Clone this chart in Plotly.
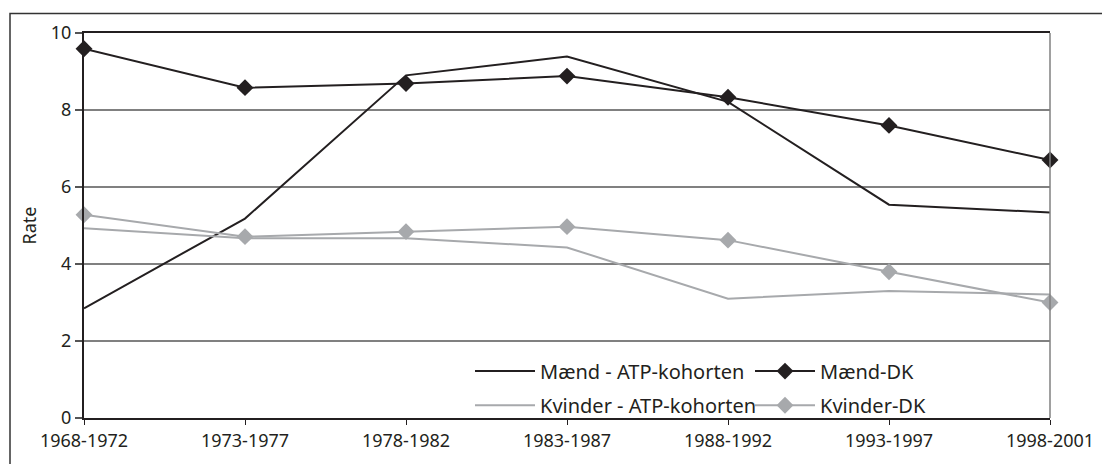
import plotly.graph_objects as go

categories = ["1968-1972", "1973-1977", "1978-1982", "1983-1987", "1988-1992", "1993-1997", "1998-2001"]
maend_atp = [2.85, 5.18, 8.90, 9.39, 8.21, 5.54, 5.34]
maend_dk = [9.59, 8.58, 8.69, 8.88, 8.33, 7.60, 6.70]
kvinder_atp = [4.93, 4.67, 4.67, 4.43, 3.10, 3.30, 3.21]
kvinder_dk = [5.28, 4.71, 4.84, 4.97, 4.62, 3.80, 3.00]

y_ticks = [0, 2, 4, 6, 8, 10]

BLACK = "#231f20"
GRAY = "#a7a9ac"
FONT = "Noto Sans"

OFF = 8  # page body margin
W, H = 1110 - OFF, 464 - OFF
# plot area in window pixels: x 84..1050, y 30..424
L = 84 - OFF
T = 30 - OFF
R = W - (1050 - OFF)
B = H - (424 - OFF)
pw, ph = W - L - R, H - T - B

def px_x(px):
    return (px - OFF - L) / pw

def px_y(py):
    return (H - B - (py - OFF)) / ph

fig = go.Figure()
fig.add_trace(go.Scatter(x=categories, y=maend_atp, name="Mænd - ATP-kohorten", mode="lines",
                         line=dict(color=BLACK, width=2), legend="legend", cliponaxis=False))
fig.add_trace(go.Scatter(x=categories, y=maend_dk, name="Mænd-DK", mode="lines+markers",
                         line=dict(color=BLACK, width=2),
                         marker=dict(symbol="diamond", size=13, color=BLACK),
                         legend="legend2", cliponaxis=False))
fig.add_trace(go.Scatter(x=categories, y=kvinder_atp, name="Kvinder - ATP-kohorten", mode="lines",
                         line=dict(color=GRAY, width=2), legend="legend3", cliponaxis=False))
fig.add_trace(go.Scatter(x=categories, y=kvinder_dk, name="Kvinder-DK", mode="lines+markers",
                         line=dict(color=GRAY, width=2),
                         marker=dict(symbol="diamond", size=13, color=GRAY),
                         legend="legend4", cliponaxis=False))

leg_common = dict(bgcolor="rgba(0,0,0,0)", font=dict(family=FONT, size=20, color=BLACK),
                  xanchor="left", yanchor="middle", itemwidth=60)

# outer frame
fig.add_shape(type="rect", xref="paper", yref="paper",
              x0=px_x(10), x1=px_x(1108.5), y0=px_y(480), y1=px_y(10),
              line=dict(color="#333333", width=1.5), layer="below")
# right plot border (gray)
fig.add_shape(type="line", xref="paper", yref="paper", x0=1, x1=1, y0=0, y1=1,
              line=dict(color="#808080", width=1.5))

fig.update_layout(
    width=W, height=H,
    margin=dict(l=L, r=R, t=T, b=B),
    paper_bgcolor="white", plot_bgcolor="white",
    font=dict(family=FONT, color=BLACK),
    showlegend=True,
    legend=dict(x=px_x(470), y=px_y(376), **leg_common),
    legend2=dict(x=px_x(750), y=px_y(376), **leg_common),
    legend3=dict(x=px_x(470), y=px_y(411), **leg_common),
    legend4=dict(x=px_x(750), y=px_y(411), **leg_common),
    xaxis=dict(type="category", range=[0, 6], showgrid=False,
               showline=True, linecolor=BLACK, linewidth=2, mirror=True,
               ticks="outside", ticklen=5, tickcolor=BLACK, tickwidth=1,
               tickfont=dict(family=FONT, size=18, color=BLACK),
               zeroline=False, fixedrange=True),
    yaxis=dict(range=[0, 10], tickvals=y_ticks, ticktext=[str(v) for v in y_ticks],
               showgrid=True, gridcolor="#808080", gridwidth=1.5,
               showline=True, linecolor=BLACK, linewidth=2,
               ticks="outside", ticklen=7, tickcolor="#555555", tickwidth=1.5,
               tickfont=dict(family=FONT, size=18, color=BLACK),
               title=dict(text="Rate", font=dict(family=FONT, size=18, color=BLACK), standoff=10),
               zeroline=False, fixedrange=True),
)

fig.write_html("out.html")
